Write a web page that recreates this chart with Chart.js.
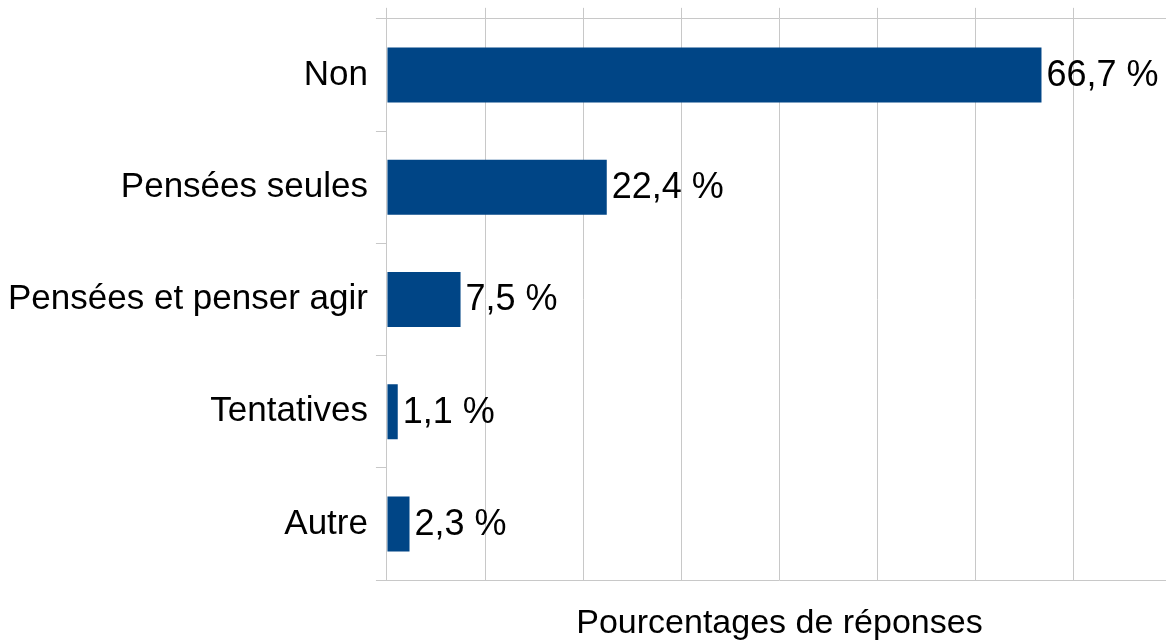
<!DOCTYPE html>
<html>
<head>
<meta charset="utf-8">
<script src="https://cdn.jsdelivr.net/npm/chart.js@4.4.1/dist/chart.umd.min.js"></script>
<style>
  html, body { margin: 0; padding: 0; background: #fff; overflow: hidden; }
  #wrap { width: 1172px; height: 644px; }
</style>
</head>
<body>
<div id="wrap"><canvas id="chart" width="1172" height="644"></canvas></div>
<script>
// categories and values
var categories = ['Non', 'Pensées seules', 'Pensées et penser agir', 'Tentatives', 'Autre'];
var percents = [66.7, 22.4, 7.5, 1.1, 2.3];
var axisTitle = 'Pourcentages de réponses';

var fontFamily = "'Liberation Sans', Arial, sans-serif";
var gridColor = '#c8c8c8';
var barColor = '#004586';

var fmt = (v) => v.toFixed(1).replace('.', ',') + ' %';

// draw value labels at the end of each bar
var valueLabels = {
    id: 'valueLabels',
    afterDatasetsDraw(chart) {
        let ctx = chart.ctx;
        let meta = chart.getDatasetMeta(0);
        ctx.save();
        ctx.font = '36px ' + fontFamily;
        ctx.fillStyle = '#000';
        ctx.textAlign = 'left';
        ctx.textBaseline = 'middle';
        meta.data.forEach((bar, i) => {
            ctx.fillText(fmt(percents[i]), bar.x + 5, bar.y + 1);
        });
        ctx.restore();
    }
};

new Chart(document.getElementById('chart'), {
    type: 'bar',
    data: {
        labels: categories,
        datasets: [{
            data: percents,
            backgroundColor: barColor,
            borderWidth: 0,
            barPercentage: 1,
            categoryPercentage: 0.49
        }]
    },
    options: {
        indexAxis: 'y',
        responsive: false,
        animation: false,
        layout: { padding: { top: 0, right: 0, bottom: 0, left: 0 } },
        plugins: { legend: { display: false }, tooltip: { enabled: false } },
        scales: {
            x: {
                type: 'linear',
                position: 'bottom',
                min: 0,
                max: 80,
                ticks: { display: false, stepSize: 10 },
                grid: { color: gridColor, drawTicks: false, lineWidth: 1 },
                border: { display: true, color: gridColor },
                title: {
                    display: true,
                    text: axisTitle,
                    color: '#000',
                    font: { family: fontFamily, size: 34 },
                    padding: { top: 23, bottom: 0 }
                }
            },
            x2: {
                type: 'linear',
                axis: 'x',
                position: 'top',
                min: 0,
                max: 80,
                ticks: { display: false, stepSize: 10 },
                grid: { color: gridColor, drawOnChartArea: false, tickLength: 11 },
                border: { display: true, color: gridColor }
            },
            y: {
                ticks: {
                    color: '#000',
                    font: { family: fontFamily, size: 35, lineHeight: 0.62 },
                    padding: 8
                },
                grid: { color: gridColor, drawOnChartArea: false, tickLength: 11, offset: true },
                border: { display: true, color: gridColor }
            }
        }
    },
    plugins: [valueLabels]
});
</script>
</body>
</html>
